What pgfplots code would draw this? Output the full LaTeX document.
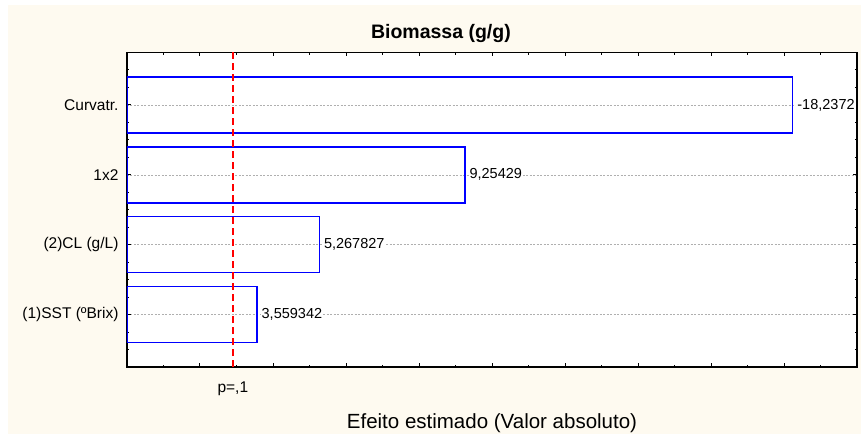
\documentclass[border=0pt]{standalone}
\usepackage{pgfplots}
\pgfplotsset{compat=1.18}
\usepackage{pgfplotstable}
\usepackage{fontspec}
\setmainfont{Liberation Sans}
\definecolor{panel}{RGB}{254,250,240}
\definecolor{barblue}{RGB}{0,0,255}
\definecolor{gridgray}{RGB}{175,175,175}
\newcommand\plabel{p=,1}

% Standardized effects (absolute value) with their printed labels
\pgfplotstableread{
y effect label
1 3.559342 3,559342
2 5.267827 5,267827
3 9.25429 9,25429
4 18.2372 -18,2372
}\effects

\begin{document}
\begin{tikzpicture}
\useasboundingbox (-127bp,-67bp) rectangle (734bp,367bp);
\fill[white] (-127bp,-67bp) rectangle (734bp,367bp);
\fill[panel] (-119bp,-67bp) rectangle (734bp,362bp);
\begin{axis}[
  scale only axis, width=730bp, height=314.5bp,
  xmin=0, xmax=20, ymin=0.25, ymax=4.75,
  axis background/.style={fill=white},
  axis line style={black, line width=1.6bp},
  tick align=inside,
  tick style={black, line width=1bp},
  major tick length=4bp, minor tick length=2.5bp,
  xtick={0,2,...,20}, minor xtick={1,3,...,19}, xticklabels={},
  ytick={1,2,3,4},
  yticklabels={{(1)SST (ºBrix)},{(2)CL (g/L)},1x2,Curvatr.},
  minor ytick={0.5,0.75,1.25,1.5,1.75,2.25,2.5,2.75,3.25,3.5,3.75,4.25,4.5},
  ymajorgrids,
  major grid style={gridgray, dash pattern=on 2bp off 1.5bp, line width=0.6bp},
  yticklabel style={font=\fontsize{15.5bp}{18bp}\selectfont, xshift=-5bp},
  extra x ticks={2.9},
  extra x tick labels={\plabel},
  extra x tick style={major tick length=0pt,
    tick label style={font=\fontsize{15.5bp}{18bp}\selectfont, yshift=-11bp}},
  every axis title shift=0pt,
  title={Biomassa (g/g)},
  title style={at={(axis description cs:0.43,1.06)}, anchor=center,
    font=\fontsize{19.5bp}{22bp}\selectfont\bfseries},
  xlabel={Efeito estimado (Valor absoluto)},
  xlabel style={at={(axis description cs:0.5,-0.178)}, anchor=center,
    font=\fontsize{20.5bp}{23bp}\selectfont},
]
\addplot[xbar, bar width=0.8, draw=barblue, fill=none, line width=1.5bp,
  nodes near coords, point meta=explicit symbolic,
  nodes near coords style={anchor=west, black, fill=white, inner sep=1bp,
    xshift=3bp, font=\fontsize{14.5bp}{17bp}\selectfont}]
  table[x=effect, y=y, meta=label] {\effects};
% critical value line for p = .1
\addplot[red, line width=1.5bp, dash pattern=on 7bp off 4bp]
  coordinates {(2.9,0.25) (2.9,4.75)};
\end{axis}
\end{tikzpicture}
\end{document}
